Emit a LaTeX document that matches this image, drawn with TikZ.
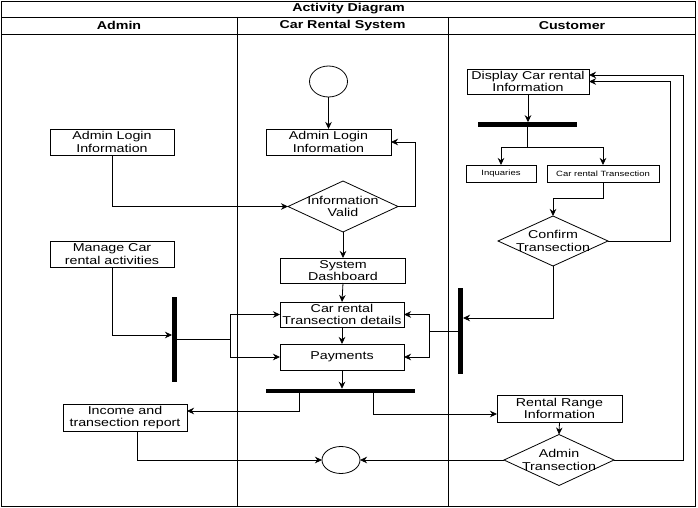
\documentclass[tikz,border=0pt]{standalone}
\usepackage{fontspec}
\setmainfont[FakeStretch=1.25]{Liberation Sans}
\usetikzlibrary{arrows.meta,shapes.geometric}
\tikzset{
  lane/.style={draw=black, line width=0.9pt},
  box/.style={draw=black, line width=0.8pt, fill=white, align=center, inner sep=0pt, outer sep=0pt,
    font=\fontsize{11.4}{12.8}\selectfont},
  smallbox/.style={box, font=\fontsize{7.6}{9}\selectfont},
  decision/.style={diamond, draw=black, line width=0.8pt, fill=white, inner sep=0pt, outer sep=0pt},
  dlabel/.style={align=center, inner sep=0pt, font=\fontsize{11.4}{12.8}\selectfont},
  circ/.style={ellipse, draw=black, line width=0.8pt, fill=white, inner sep=0pt, outer sep=0pt},
  syncbar/.style={fill=black, draw=none, inner sep=0pt, outer sep=0pt},
  conn/.style={draw=black, line width=0.8pt},
  arr/.style={conn, -{Stealth[length=7pt,width=6.5pt,inset=2.2pt]}},
  head/.style={font=\bfseries\fontsize{11.4}{12.8}\selectfont, inner sep=0pt}
}
\begin{document}
\begin{tikzpicture}[x=1pt,y=-1pt]
\useasboundingbox (0,0) rectangle (698,508);
% frame and lanes
\draw[lane] (1.5,1) rectangle (695.5,506.5);
\draw[lane] (1.5,17) -- (695.5,17);
\draw[lane] (1.5,34) -- (695.5,34);
\draw[lane] (237,17) -- (237,506.5);
\draw[lane] (448,17) -- (448,506.5);
\node[head] (title) at (348.5,9) {Activity Diagram};
\node[head] (hadmin) at (119,25.5) {Admin};
\node[head] (hsys) at (342.5,25.5) {Car Rental System};
\node[head] (hcust) at (572,25.5) {Customer};

% Admin lane
\node[box, minimum width=124pt, minimum height=26pt] (login1) at (112,142) {Admin Login\\Information};
\node[box, minimum width=124pt, minimum height=26pt] (manage) at (112,254) {Manage Car\\rental activities};
\node[syncbar, minimum width=5pt, minimum height=85pt] (lbar) at (174.5,339.5) {};
\node[box, minimum width=124pt, minimum height=27pt] (income) at (125,417.5) {Income and\\transection report};

% System lane
\node[circ, minimum width=38pt, minimum height=31pt] (startc) at (328.5,81.5) {};
\node[box, minimum width=125pt, minimum height=26pt] (login2) at (328.5,142) {Admin Login\\Information};
\node[decision, minimum width=110pt, minimum height=51pt] (valid) at (343,206.5) {};
\node[dlabel] (validt) at (343,206.5) {Information\\Valid};
\node[box, minimum width=125pt, minimum height=25pt] (dash) at (343,270.5) {System\\Dashboard};
\node[box, minimum width=124pt, minimum height=25pt] (details) at (342,314.5) {Car rental\\Transection details};
\node[box, minimum width=124pt, minimum height=26pt] (payments) at (342,357) {Payments};
\node[syncbar, minimum width=149pt, minimum height=4.5pt] (bar2) at (340.5,391) {};
\node[circ, minimum width=38pt, minimum height=27pt] (endc) at (341,460) {};

% Customer lane
\node[box, minimum width=122pt, minimum height=25pt] (display) at (528,81.5) {Display Car rental\\Information};
\node[syncbar, minimum width=99pt, minimum height=4.5pt] (fork1) at (527.5,124.5) {};
\node[smallbox, minimum width=70pt, minimum height=17pt] (inq) at (501,173.5) {Inquaries};
\node[smallbox, minimum width=112pt, minimum height=17pt] (crt) at (603,173.5) {Car rental Transection};
\node[decision, minimum width=110pt, minimum height=50pt] (confirm) at (553,241) {};
\node[dlabel] (confirmt) at (553,241) {Confirm\\Transection};
\node[syncbar, minimum width=5pt, minimum height=86pt] (vbar) at (460.5,331) {};
\node[box, minimum width=125pt, minimum height=27pt] (rental) at (559.5,408.5) {Rental Range\\Information};
\node[decision, minimum width=110pt, minimum height=51pt] (adminT) at (559,460) {};
\node[dlabel] (adminTt) at (559,460) {Admin\\Transection};

% connectors: system lane
\draw[arr] (startc) -- (login2);
\draw[arr] (login1.south) |- (valid.west);
\draw[arr] (valid.east) -- ++(17,0) |- (login2.east);
\draw[arr] (valid.south) -- (dash.north);
\draw[arr] (dash.south) -- (details.north);
\draw[arr] (details.south) -- (payments.north);
\draw[arr] (payments.south) -- (payments.south |- bar2.north);
\coordinate (b2l) at (299,393);
\coordinate (b2r) at (373,393);
\draw[arr] (b2l) |- ([yshift=6.5pt]income.east);
\draw[arr] (b2r) |- ([yshift=-5.5pt]rental.west);
\draw[arr] ([xshift=12pt]income.south) |- (endc.west);

% admin lane fork
\draw[arr] (manage.south) |- ([yshift=4.5pt]lbar.west);
\draw[conn] (lbar.east) -- ++(53,0) coordinate (vl);
\draw[arr] (vl) |- (details.west);
\draw[arr] (vl) |- (payments.west);

% customer lane
\draw[arr] (display.south) -- (display.south |- fork1.north);
\draw[conn] (fork1.south) -- ++(0,21) coordinate (fj);
\draw[arr] (fj) -| (inq.north);
\draw[arr] (fj) -| (crt.north);
\draw[arr] (crt.south) -- ++(0,16) -| (confirm.north);
\draw[arr] (confirm.east) -- ++(62,0) |- (display.east);
\draw[arr] (confirm.south) |- ([yshift=13pt]vbar.east);
\draw[conn] (vbar.west) -- ++(-29,0) coordinate (vr);
\draw[arr] (vr) |- (details.east);
\draw[arr] (vr) |- (payments.east);
\draw[arr] (rental.south) -- (adminT.north);
\draw[arr] (adminT.west) -- (endc.east);
\draw[arr] (adminT.east) -- ++(69,0) |- ([yshift=6.5pt]display.east);
\end{tikzpicture}
\end{document}
